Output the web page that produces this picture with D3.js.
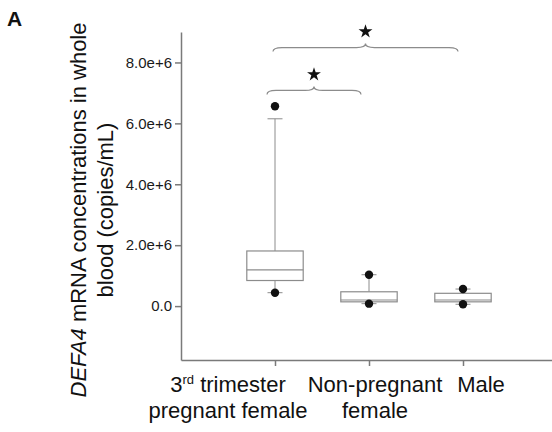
<!DOCTYPE html>
<html>
<head>
<meta charset="utf-8">
<script src="https://d3js.org/d3.v7.min.js"></script>
<style>
  body { margin: 0; background: #fff; }
  svg { font-family: "Liberation Sans", Arial, sans-serif; }
</style>
</head>
<body>
<script>
// --- data ---
var categories = ["3rd trimester pregnant female", "Non-pregnant female", "Male"];
var q1         = [0.84e6, 0.14e6, 0.14e6];
var medians    = [1.19e6, 0.20e6, 0.20e6];
var q3         = [1.81e6, 0.47e6, 0.42e6];
var whiskerLow = [0.44e6, 0.08e6, 0.06e6];
var whiskerHigh= [6.15e6, 1.03e6, 0.56e6];
var outliers   = [[6.56e6, 0.44e6], [1.03e6, 0.08e6], [0.56e6, 0.06e6]];
var yTicks     = [0, 2e6, 4e6, 6e6, 8e6];

// significance brackets
var bracketFrom  = [0, 0];
var bracketTo    = [1, 2];
var bracketLevel = [7.08e6, 8.49e6];

var width = 552, height = 432;

var svg = d3.select("body").append("svg")
    .attr("width", width)
    .attr("height", height);

var x = d3.scalePoint()
    .domain(categories)
    .range([181, 557])
    .padding(1);

var y = d3.scaleLinear()
    .domain([-1.77e6, 9e6])
    .range([360, 32]);

var axisColor = "#7a7a7a";
var boxColor = "#8c8c8c";

// y axis
var fmt = d3.format(".1e");
var yAxis = svg.append("g")
    .attr("transform", "translate(181,0)")
    .call(d3.axisLeft(y).tickValues(yTicks).tickSize(6).tickSizeOuter(0).tickPadding(3)
        .tickFormat(function(d) { return d === 0 ? "0.0" : fmt(d); }));
yAxis.selectAll("path, line").attr("stroke", axisColor).attr("stroke-width", 1.5);
yAxis.selectAll("text").attr("font-size", 15).attr("fill", "#1a1a1a")
    .attr("font-family", "Liberation Sans, Arial, sans-serif");

// x axis
var xAxis = svg.append("g")
    .attr("transform", "translate(0,360)")
    .call(d3.axisBottom(x).tickSize(6).tickSizeOuter(0).tickFormat(""));
xAxis.selectAll("path, line").attr("stroke", axisColor).attr("stroke-width", 1.5);

// boxes
var bw = x.step() * 0.6;
var cap = 15;
var g = svg.append("g");
categories.forEach(function(c, i) {
  var cx = x(c);
  // whiskers
  g.append("line").attr("x1", cx).attr("x2", cx).attr("y1", y(q3[i])).attr("y2", y(whiskerHigh[i]))
      .attr("stroke", boxColor);
  g.append("line").attr("x1", cx).attr("x2", cx).attr("y1", y(q1[i])).attr("y2", y(whiskerLow[i]))
      .attr("stroke", boxColor);
  [whiskerHigh[i], whiskerLow[i]].forEach(function(v) {
    g.append("line").attr("x1", cx - cap / 2).attr("x2", cx + cap / 2)
        .attr("y1", y(v)).attr("y2", y(v)).attr("stroke", boxColor);
  });
  g.append("rect")
      .attr("x", cx - bw / 2).attr("width", bw)
      .attr("y", y(q3[i])).attr("height", y(q1[i]) - y(q3[i]))
      .attr("fill", "#fff").attr("stroke", boxColor).attr("stroke-width", 1.2);
  g.append("line").attr("x1", cx - bw / 2).attr("x2", cx + bw / 2)
      .attr("y1", y(medians[i])).attr("y2", y(medians[i])).attr("stroke", boxColor).attr("stroke-width", 1.2);
  outliers[i].forEach(function(v) {
    g.append("circle").attr("cx", cx).attr("cy", y(v)).attr("r", 4.2).attr("fill", "#111");
  });
});

// braces
function brace(x1, x2, yy, h) {
  var xm = (x1 + x2) / 2, r = 9;
  return "M" + x1 + "," + (yy + h) +
    "Q" + x1 + "," + yy + " " + (x1 + r) + "," + yy +
    "L" + (xm - r) + "," + yy +
    "Q" + xm + "," + yy + " " + xm + "," + (yy - h) +
    "Q" + xm + "," + yy + " " + (xm + r) + "," + yy +
    "L" + (x2 - r) + "," + yy +
    "Q" + x2 + "," + yy + " " + x2 + "," + (yy + h);
}
var star = d3.symbol().type(d3.symbolStar).size(60);
var insetL = [8, 2], insetR = [8, 5];
bracketFrom.forEach(function(f, k) {
  var x1 = x(categories[f]) - insetL[k];
  var x2 = x(categories[bracketTo[k]]) - insetR[k];
  var yy = y(bracketLevel[k]);
  svg.append("path").attr("d", brace(x1, x2, yy, 4))
      .attr("fill", "none").attr("stroke", boxColor).attr("stroke-width", 1.2);
  svg.append("path").attr("d", star)
      .attr("transform", "translate(" + ((x1 + x2) / 2) + "," + (yy - 16) + ")")
      .attr("fill", "#111");
});

// category labels
var labelShift = [-47, 6, 18];
var lab = svg.append("g").attr("font-size", 22).attr("fill", "#111").attr("text-anchor", "middle");
var t0 = lab.append("text").attr("x", x(categories[0]) + labelShift[0]).attr("y", 392);
t0.append("tspan").text("3");
t0.append("tspan").attr("font-size", 13).attr("dy", -8).text("rd");
t0.append("tspan").attr("dy", 8).text(" trimester");
lab.append("text").attr("x", x(categories[0]) + labelShift[0]).attr("y", 418).text("pregnant female");
lab.append("text").attr("x", x(categories[1]) + labelShift[1]).attr("y", 392).text("Non-pregnant");
lab.append("text").attr("x", x(categories[1]) + labelShift[1]).attr("y", 418).text("female");
lab.append("text").attr("x", x(categories[2]) + labelShift[2]).attr("y", 392).text("Male");

// y title
var yt = svg.append("g").attr("transform", "translate(86,210) rotate(-90)")
    .attr("font-size", 22).attr("fill", "#111").attr("text-anchor", "middle");
var l1 = yt.append("text").attr("x", 0).attr("y", 0);
l1.append("tspan").attr("font-style", "italic").text("DEFA4");
l1.append("tspan").text(" mRNA concentrations in whole");
yt.append("text").attr("x", 0).attr("y", 27).text("blood (copies/mL)");

// panel letter
svg.append("text").attr("x", 7).attr("y", 26).attr("font-size", 21).attr("font-weight", "bold")
    .attr("fill", "#111").text("A");
</script>
</body>
</html>
